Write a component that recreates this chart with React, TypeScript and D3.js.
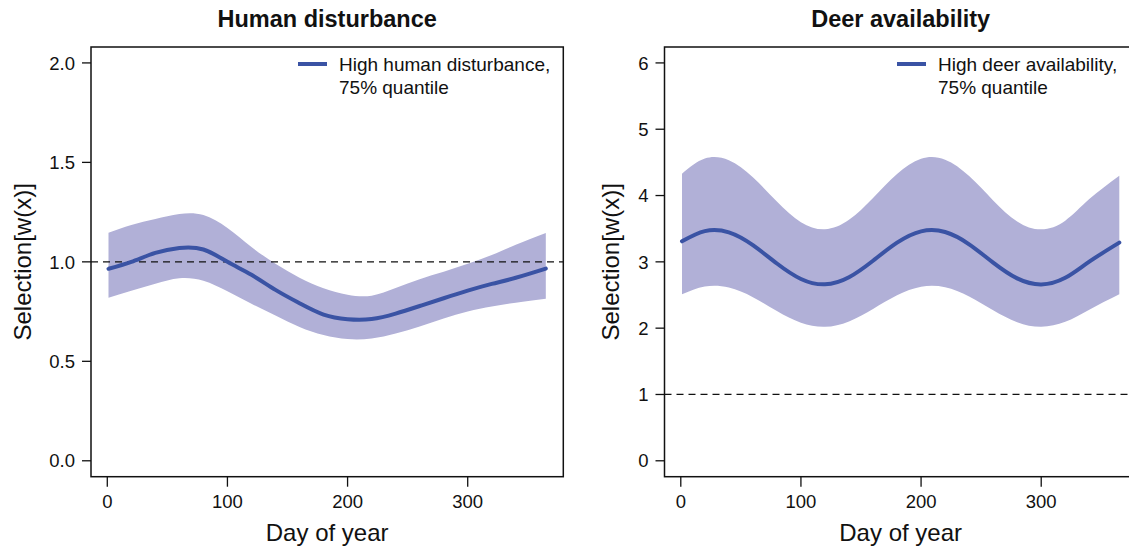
import React from "react";
import * as d3 from "d3";

// ---------- data ----------
const xTicks = [0, 100, 200, 300];
const leftYTicks = [0, 0.5, 1, 1.5, 2];
const rightYTicks = [0, 1, 2, 3, 4, 5, 6];

const leftDays = [1, 20, 40, 60, 80, 100, 120, 140, 160, 180, 200, 220, 240, 260, 280, 300, 320, 340, 365];
const leftMean = [0.965, 1.0, 1.045, 1.07, 1.062, 1.0, 0.935, 0.859, 0.792, 0.735, 0.712, 0.713, 0.74, 0.778, 0.817, 0.855, 0.889, 0.92, 0.966];
const leftUpper = [1.146, 1.185, 1.215, 1.24, 1.235, 1.17, 1.075, 0.99, 0.92, 0.867, 0.835, 0.83, 0.868, 0.913, 0.95, 0.99, 1.035, 1.086, 1.145];
const leftLower = [0.82, 0.855, 0.89, 0.918, 0.905, 0.852, 0.79, 0.73, 0.673, 0.632, 0.612, 0.615, 0.64, 0.675, 0.715, 0.75, 0.775, 0.795, 0.815];

const rightDays = [1, 20, 40, 60, 80, 100, 120, 140, 160, 180, 200, 220, 240, 260, 280, 300, 320, 340, 365];
const rightMean = [3.31, 3.464, 3.445, 3.252, 2.975, 2.742, 2.661, 2.768, 3.017, 3.289, 3.46, 3.45, 3.265, 2.989, 2.751, 2.66, 2.759, 3.003, 3.29];
const rightUpper = [4.33, 4.559, 4.533, 4.277, 3.909, 3.598, 3.491, 3.634, 3.964, 4.326, 4.554, 4.541, 4.294, 3.927, 3.61, 3.49, 3.621, 3.946, 4.3];
const rightLower = [2.51, 2.628, 2.613, 2.468, 2.258, 2.082, 2.021, 2.102, 2.29, 2.496, 2.625, 2.618, 2.477, 2.269, 2.089, 2.02, 2.095, 2.279, 2.51];

const FILL = "#b1b0d7";
const LINE = "#3a53a4";
const FONT = "'Liberation Sans', Arial, Helvetica, sans-serif";

type PanelProps = {
  left: number;
  right: number;
  title: string;
  legend1: string;
  legend2: string;
  days: number[];
  mean: number[];
  upper: number[];
  lower: number[];
  yMax: number;
  yTicks: number[];
  yFmt: (v: number) => string;
  legendX: number;
  ylabX: number;
};

function Panel(p: PanelProps) {
  const top = 47;
  const bottom = 476.7;
  const pad = 0.04;
  const xr = 365 - 1;
  const x = d3.scaleLinear().domain([1 - xr * pad, 365 + xr * pad]).range([p.left, p.right]);
  const y = d3.scaleLinear().domain([-p.yMax * pad, p.yMax * (1 + pad)]).range([bottom, top]);

  const idx = d3.range(p.days.length);
  const area = d3
    .area<number>()
    .x((i) => x(p.days[i]))
    .y0((i) => y(p.lower[i]))
    .y1((i) => y(p.upper[i]))
    .curve(d3.curveNatural);
  const line = d3
    .line<number>()
    .x((i) => x(p.days[i]))
    .y((i) => y(p.mean[i]))
    .curve(d3.curveNatural);

  const cx = (p.left + p.right) / 2;
  const cy = (top + bottom) / 2;

  return (
    <g fontFamily={FONT}>
      <defs>
        <clipPath id={"clip" + Math.round(p.left)}>
          <rect x={p.left} y={top} width={p.right - p.left} height={bottom - top} />
        </clipPath>
      </defs>
      <g clipPath={`url(#clip${Math.round(p.left)})`}>
        <path d={area(idx) || ""} fill={FILL} />
        <line x1={p.left} x2={p.right} y1={y(1)} y2={y(1)} stroke="#111" strokeWidth={1.3} strokeDasharray="7,5" />
        <path d={line(idx) || ""} fill="none" stroke={LINE} strokeWidth={4} strokeLinecap="round" />
      </g>
      <rect x={p.left} y={top} width={p.right - p.left} height={bottom - top} fill="none" stroke="#111" strokeWidth={1.5} />
      {p.yTicks.map((t) => (
        <g key={"y" + t}>
          <line x1={p.left - 9} x2={p.left} y1={y(t)} y2={y(t)} stroke="#111" strokeWidth={1.3} />
          <text x={p.left - 16} y={y(t)} dy="0.36em" textAnchor="end" fontSize={18.5} fill="#111">
            {p.yFmt(t)}
          </text>
        </g>
      ))}
      {xTicks.map((t) => (
        <g key={"x" + t}>
          <line x1={x(t)} x2={x(t)} y1={bottom} y2={bottom + 10} stroke="#111" strokeWidth={1.3} />
          <text x={x(t)} y={bottom + 31} textAnchor="middle" fontSize={18.5} fill="#111">
            {t}
          </text>
        </g>
      ))}
      <text x={cx} y={541} textAnchor="middle" fontSize={24} fill="#111">
        Day of year
      </text>
      <text
        transform={`translate(${p.ylabX},${cy}) rotate(-90)`}
        textAnchor="middle"
        fontSize={24}
        fill="#111"
      >
        Selection[w(x)]
      </text>
      <text x={cx} y={27} textAnchor="middle" fontSize={23.5} fontWeight="bold" fill="#111">
        {p.title}
      </text>
      <line x1={p.legendX} x2={p.legendX + 29} y1={64} y2={64} stroke={LINE} strokeWidth={4} />
      <text x={p.legendX + 41} y={64} dy="0.36em" fontSize={19} fill="#111">
        {p.legend1}
      </text>
      <text x={p.legendX + 41} y={87} dy="0.36em" fontSize={19} fill="#111">
        {p.legend2}
      </text>
    </g>
  );
}

export default function App() {
  return (
    <svg
      width={1129}
      height={547}
      style={{ position: "absolute", left: 0, top: 0, background: "#fff" }}
    >
      <rect width={1129} height={547} fill="#fff" />
      <Panel
        left={91}
        right={563.3}
        title="Human disturbance"
        legend1="High human disturbance,"
        legend2="75% quantile"
        days={leftDays}
        mean={leftMean}
        upper={leftUpper}
        lower={leftLower}
        yMax={2}
        yTicks={leftYTicks}
        yFmt={(v) => v.toFixed(1)}
        legendX={298}
        ylabX={31}
      />
      <Panel
        left={664.5}
        right={1136.8}
        title="Deer availability"
        legend1="High deer availability,"
        legend2="75% quantile"
        days={rightDays}
        mean={rightMean}
        upper={rightUpper}
        lower={rightLower}
        yMax={6}
        yTicks={rightYTicks}
        yFmt={(v) => String(v)}
        legendX={897}
        ylabX={619}
      />
    </svg>
  );
}
